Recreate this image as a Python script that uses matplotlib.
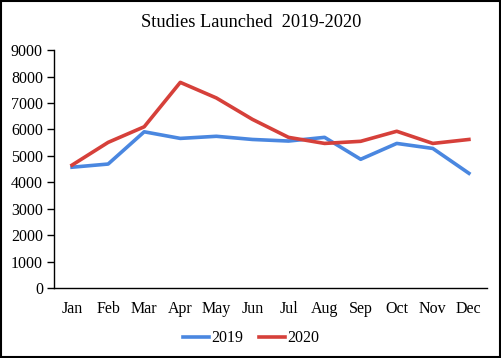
import matplotlib
matplotlib.use('Agg')
import matplotlib.pyplot as plt
from matplotlib.patches import Rectangle

months = ['Jan', 'Feb', 'Mar', 'Apr', 'May', 'Jun', 'Jul', 'Aug', 'Sep', 'Oct', 'Nov', 'Dec']
studies_2019 = [4570, 4690, 5910, 5660, 5740, 5620, 5560, 5700, 4870, 5470, 5280, 4340]
studies_2020 = [4650, 5510, 6100, 7780, 7190, 6380, 5700, 5470, 5550, 5930, 5470, 5620]
yticks = [0, 1000, 2000, 3000, 4000, 5000, 6000, 7000, 8000, 9000]

plt.rcParams['font.family'] = ['Liberation Serif', 'DejaVu Serif']

fig = plt.figure(figsize=(5.02, 3.58), dpi=100)
ax = fig.add_axes([0.1076, 0.1955, 0.8624, 0.6645])

x = range(len(months))
ax.plot(x, studies_2019, color='#4a87e0', lw=2.6, label='2019', solid_joinstyle='round')
ax.plot(x, studies_2020, color='#d6403a', lw=2.6, label='2020', solid_joinstyle='round')

ax.set_xlim(-0.5, len(months) - 0.5)
ax.set_ylim(0, 9000)
ax.set_yticks(yticks)
ax.set_xticks(list(x))
ax.set_xticklabels(months)
ax.tick_params(axis='y', length=5, width=1, labelsize=11.5, pad=3)
ax.tick_params(axis='x', length=0, labelsize=11.5, pad=9)
for side in ['top', 'right']:
    ax.spines[side].set_visible(False)
for side in ['left', 'bottom']:
    ax.spines[side].set_linewidth(1)

fig.text(0.5, 0.938, 'Studies Launched  2019-2020', ha='center', va='center', fontsize=13.2)

fig.legend(loc='center', bbox_to_anchor=(0.5, 0.055), ncol=2, frameon=False,
           fontsize=11.5, handlelength=1.6, handletextpad=0.15, columnspacing=1.0)

fig.patches.append(Rectangle((0.002, 0.003), 0.995, 0.994, transform=fig.transFigure,
                             fill=False, edgecolor='black', lw=1.5))

fig.savefig('out.png', dpi=100)
